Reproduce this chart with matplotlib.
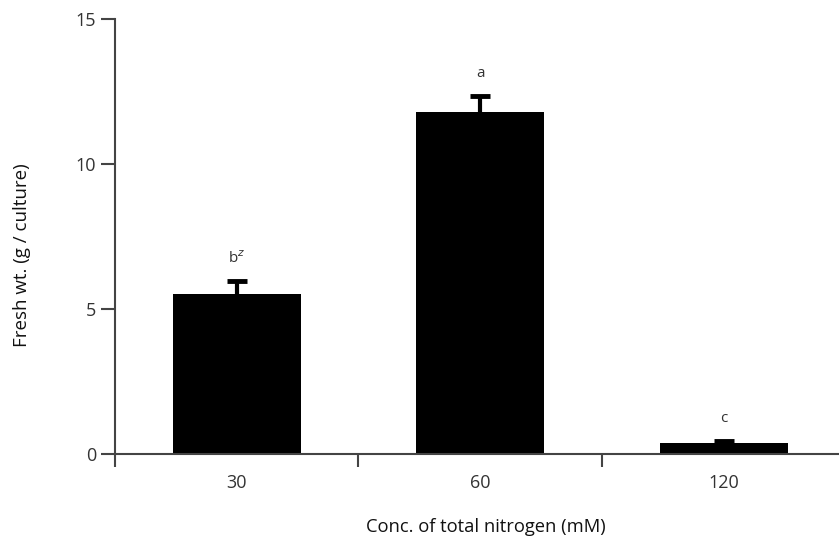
import matplotlib.pyplot as plt
from matplotlib.ticker import FixedLocator

plt.rcParams['font.family'] = ['Open Sans', 'Noto Sans CJK KR', 'DejaVu Sans']

categories = ['30', '60', '120']
means = [5.52, 11.79, 0.38]
errors = [0.45, 0.55, 0.08]
letters = ['b$^{z}$', 'a', 'c']

fig = plt.figure(figsize=(8.39, 5.42), dpi=100)
ax = fig.add_axes([0.137, 0.162, 0.862, 0.803])

x = list(range(len(categories)))
tops = [m + e for m, e in zip(means, errors)]
ax.bar(x, means, width=0.526, color='black', zorder=2)
# upper error only: stem plus a cap marker at the top
ax.vlines(x, means, tops, colors='black', linewidth=3, zorder=3)
ax.plot(x, tops, linestyle='none', marker='_', markersize=14, mew=3.5,
        color='black', zorder=3)

for xi, t, lab in zip(x, tops, letters):
    ax.annotate(lab, (xi, t), xytext=(0, 16), textcoords='offset points',
                ha='center', va='center', fontsize=11, color='#333333')

ax.set_xlim(-0.5, 2.47)
ax.set_ylim(0, 15)
ax.set_yticks([0, 5, 10, 15])
ax.set_xticks(x)
ax.set_xticklabels(categories)
ax.xaxis.set_minor_locator(FixedLocator([-0.5, 0.5, 1.5]))
ax.tick_params(axis='x', which='major', length=0, pad=14, labelsize=13, labelcolor='#333333')
ax.tick_params(axis='x', which='minor', length=9, width=1.5, direction='out', color='#444444')
ax.tick_params(axis='y', length=10, width=1.5, labelsize=13, labelcolor='#333333', color='#444444')

for side in ['top', 'right']:
    ax.spines[side].set_visible(False)
for side in ['left', 'bottom']:
    ax.spines[side].set_linewidth(1.5)
    ax.spines[side].set_color('#444444')

fig.text(486 / 839, 1 - 527 / 542, 'Conc. of total nitrogen (mM)', fontsize=13.2,
         color='#111111', ha='center', va='center')
fig.text(22 / 839, 1 - 255 / 542, 'Fresh wt. (g / culture)', fontsize=13.5,
         color='#111111', ha='center', va='center', rotation=90)

fig.savefig('out.png', dpi=100)
